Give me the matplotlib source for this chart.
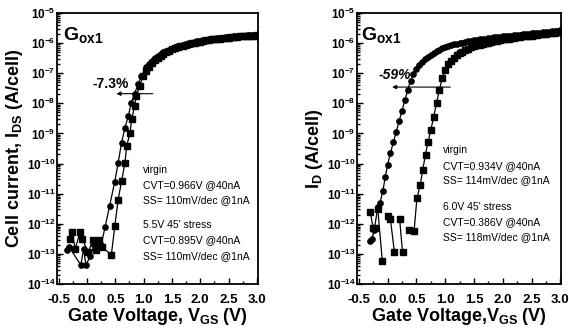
import numpy as np
import matplotlib
matplotlib.use('Agg')
import matplotlib.pyplot as plt
from matplotlib import font_manager
from matplotlib.ticker import MultipleLocator, LogLocator, FuncFormatter, NullFormatter

# pick a narrow bold sans if there is one
names = set(f.name for f in font_manager.fontManager.ttflist)
FONT = 'Liberation Sans Narrow' if 'Liberation Sans Narrow' in names else 'Liberation Sans'
plt.rcParams['font.family'] = FONT
plt.rcParams['mathtext.fontset'] = 'custom'
plt.rcParams['mathtext.rm'] = FONT + ':bold'
plt.rcParams['mathtext.bf'] = FONT + ':bold'
plt.rcParams['mathtext.it'] = FONT + ':bold'

# ---- data (log10 of current, A/cell) ----
# left panel: Gox1, 5.5V 45' stress
left_virgin_v = [-0.30, -0.26, -0.21, -0.12, -0.08, 0.02, 0.10, 0.16, 0.21, 0.27, 0.43, 0.49,
                 0.55, 0.61, 0.67, 0.70, 0.76, 0.79, 0.84, 0.87, 0.93, 0.99]
left_virgin_log = [-12.51, -12.26, -12.84, -12.26, -12.51, -12.95, -12.55, -12.87, -12.55, -12.78,
                   -13.03, -12.09, -11.20, -10.59, -9.98, -9.42, -8.98, -8.53, -8.09, -7.76, -7.42, -7.09]
left_stress_v = [-0.35, -0.31, -0.11, -0.06, -0.02, 0.06, 0.13, 0.20, 0.25, 0.32, 0.40, 0.49,
                 0.55, 0.61, 0.67, 0.73, 0.78, 0.84, 0.90, 0.96]
left_stress_log = [-12.87, -12.78, -13.37, -12.84, -13.37, -13.07, -12.70, -12.78, -12.70, -12.10,
                   -11.40, -10.60, -9.98, -9.31, -8.81, -8.42, -7.98, -7.68, -7.37, -7.09]

left_on_v = [1.05, 1.10, 1.15, 1.20, 1.25, 1.30, 1.35, 1.40, 1.45, 1.50, 1.55, 1.60, 1.65, 1.70,
             1.75, 1.80, 1.85, 1.90, 1.95, 2.00, 2.05, 2.10, 2.15, 2.20, 2.25, 2.30, 2.35, 2.40,
             2.45, 2.50, 2.55, 2.60, 2.65, 2.70, 2.75, 2.80, 2.85, 2.90, 2.95, 3.00]
left_stress_on = [-6.80, -6.68, -6.58, -6.50, -6.43, -6.37, -6.31, -6.26, -6.22, -6.18, -6.14,
                  -6.11, -6.08, -6.05, -6.03, -6.00, -5.98, -5.96, -5.94, -5.92, -5.91, -5.89,
                  -5.88, -5.86, -5.85, -5.84, -5.83, -5.82, -5.81, -5.80, -5.79, -5.78, -5.77,
                  -5.76, -5.76, -5.75, -5.74, -5.74, -5.73, -5.73]
left_virgin_on = [-6.92, -6.78, -6.66, -6.57, -6.49, -6.42, -6.36, -6.30, -6.26, -6.21, -6.17,
                  -6.14, -6.10, -6.08, -6.05, -6.03, -6.00, -5.98, -5.96, -5.95, -5.93, -5.91,
                  -5.90, -5.88, -5.87, -5.86, -5.85, -5.84, -5.83, -5.82, -5.81, -5.80, -5.79,
                  -5.78, -5.77, -5.77, -5.76, -5.75, -5.75, -5.74]

# right panel: Gox1, 6.0V 45' stress (nan = no reading, line broken)
right_virgin_v = [-0.30, -0.25, -0.21, np.nan, -0.17, -0.09, np.nan, 0.00, 0.05, 0.12, np.nan,
                  0.21, 0.26, np.nan, 0.37, np.nan, 0.46, 0.51, 0.57, 0.61, 0.66, 0.70, 0.75,
                  0.80, 0.85, 0.90, 0.95, 1.00, 1.05, 1.10]
right_virgin_log = [-11.60, -12.15, -12.15, np.nan, -11.50, -13.25, np.nan, -11.75, -11.85, -12.95,
                    np.nan, -11.85, -12.95, np.nan, -12.20, np.nan, -12.25, -11.15, -10.70, -10.20,
                    -9.70, -9.30, -8.90, -8.45, -8.00, -7.55, -7.15, -6.88, -6.70, -6.58]
right_stress_v = [-0.30, -0.27, -0.23, -0.17, -0.13, -0.08, -0.04, 0.00, 0.05, 0.10, 0.15, 0.20,
                  0.25, 0.30, 0.35, 0.40, 0.45, 0.50, 0.55, 0.60]
right_stress_log = [-12.57, -12.50, -12.20, -11.45, -11.30, -10.90, -10.45, -10.05, -9.65, -9.30,
                    -8.95, -8.60, -8.25, -7.90, -7.55, -7.25, -7.02, -6.85, -6.72, -6.62]

right_stress_on_v = [0.65, 0.70, 0.75, 0.80, 0.85, 0.90, 0.95, 1.00] + left_on_v
right_stress_on = [-6.54, -6.47, -6.40, -6.33, -6.27, -6.22, -6.17, -6.13, -6.10, -6.07, -6.04,
                   -6.02, -6.00, -5.98, -5.96, -5.94, -5.92, -5.91, -5.89, -5.88, -5.86, -5.85,
                   -5.84, -5.82, -5.81, -5.80, -5.79, -5.78, -5.77, -5.76, -5.75, -5.74, -5.73,
                   -5.72, -5.71, -5.70, -5.69, -5.68, -5.67, -5.66, -5.65, -5.64, -5.63, -5.62,
                   -5.61, -5.60, -5.59, -5.58]
right_virgin_on_v = left_on_v[2:]
right_virgin_on = [-6.48, -6.40, -6.34, -6.28, -6.23, -6.18, -6.14, -6.10, -6.07, -6.05, -6.02,
                   -6.00, -5.98, -5.96, -5.94, -5.92, -5.90, -5.88, -5.86, -5.85, -5.84, -5.82,
                   -5.81, -5.80, -5.78, -5.77, -5.76, -5.75, -5.74, -5.72, -5.71, -5.70, -5.69,
                   -5.68, -5.67, -5.66, -5.64, -5.62]

left_notes = ["virgin", "CVT=0.966V @40nA", "SS= 110mV/dec @1nA",
              "5.5V 45' stress", "CVT=0.895V @40nA", "SS= 110mV/dec @1nA"]
right_notes = ["virgin", "CVT=0.934V @40nA", "SS= 114mV/dec @1nA",
               "6.0V 45' stress", "CVT=0.386V @40nA", "SS= 118mV/dec @1nA"]


def curve(ax, v, logi, marker):
    ax.plot(v, 10.0 ** np.array(logi, dtype=float), color='k', lw=0.9,
            marker=marker, ms=3.8, mfc='k', mec='k')


def decade(x, pos):
    return r'$\mathbf{10^{%d}}$' % round(np.log10(x))


def style(ax, xmax):
    ax.set_yscale('log')
    ax.set_ylim(1e-14, 1e-5)
    ax.set_xlim(-0.53, xmax)
    ax.xaxis.set_major_locator(MultipleLocator(0.5))
    ax.xaxis.set_minor_locator(MultipleLocator(0.25))
    ax.xaxis.set_major_formatter(FuncFormatter(lambda x, p: '%.1f' % x))
    ax.yaxis.set_major_locator(LogLocator(base=10, numticks=20))
    ax.yaxis.set_minor_locator(LogLocator(base=10, subs=np.arange(2, 10), numticks=20))
    ax.yaxis.set_major_formatter(FuncFormatter(decade))
    ax.yaxis.set_minor_formatter(NullFormatter())
    ax.tick_params(which='both', direction='in', width=1.0)
    ax.tick_params(which='major', length=4)
    ax.tick_params(which='minor', length=2)
    ax.tick_params(axis='x', labelsize=9.5, pad=7)
    ax.tick_params(axis='y', labelsize=8.5, pad=1)
    for lab in ax.get_xticklabels():
        lab.set_fontweight('bold')
    for s in ax.spines.values():
        s.set_linewidth(1.3)


fig = plt.figure(figsize=(5.69, 3.35), dpi=100)
ax1 = fig.add_axes([57 / 569, 51 / 335, 201 / 569, 271 / 335])
ax2 = fig.add_axes([357 / 569, 51 / 335, 204 / 569, 271 / 335])

# left panel
curve(ax1, left_virgin_v + left_on_v, left_virgin_log + left_virgin_on, 's')
curve(ax1, left_stress_v + left_on_v, left_stress_log + left_stress_on, 'o')
style(ax1, 3.02)
ax1.set_xlabel(r'Gate Voltage, V$_{\mathbf{GS}}$ (V)', fontsize=13, fontweight='bold', labelpad=0)
ax1.set_ylabel(r'Cell current, I$_{\mathbf{DS}}$ (A/cell)', fontsize=13, fontweight='bold', labelpad=1)
ax1.text(0.03, 0.90, r'G$_{\mathbf{ox1}}$', transform=ax1.transAxes, fontsize=14, fontweight='bold')
ax1.annotate('', xy=(0.52, 10 ** -7.68), xytext=(1.16, 10 ** -7.68),
             arrowprops=dict(arrowstyle='-|>', lw=0.8, color='k', mutation_scale=6,
                             shrinkA=0, shrinkB=0))
ax1.text(0.42, 10 ** -7.37, '-7.3%', fontsize=10, fontweight='bold', ha='center', va='center')
for t, py in zip(left_notes, [170, 185, 200, 225, 240, 256]):
    ax1.text(0.43, (284 - py) / 271, t, transform=ax1.transAxes, fontsize=7.5, va='center')

# right panel
curve(ax2, right_virgin_v + right_virgin_on_v, right_virgin_log + right_virgin_on, 's')
curve(ax2, right_stress_v + right_stress_on_v, right_stress_log + right_stress_on, 'o')
style(ax2, 3.01)
ax2.set_xlabel(r'Gate Voltage,V$_{\mathbf{GS}}$ (V)', fontsize=13, fontweight='bold', labelpad=0)
ax2.set_ylabel(r'I$_{\mathbf{D}}$ (A/cell)', fontsize=13, fontweight='bold', labelpad=1)
ax2.text(0.02, 0.90, r'G$_{\mathbf{ox1}}$', transform=ax2.transAxes, fontsize=14, fontweight='bold')
ax2.annotate('', xy=(0.08, 10 ** -7.46), xytext=(1.09, 10 ** -7.46),
             arrowprops=dict(arrowstyle='-|>', lw=0.8, color='k', mutation_scale=6,
                             shrinkA=0, shrinkB=0))
ax2.text(0.12, 10 ** -7.07, '-59%', fontsize=10, fontweight='bold', style='italic',
         ha='center', va='center')
for t, py in zip(right_notes, [150, 166, 180, 207, 222, 237]):
    ax2.text(0.42, (284 - py) / 271, t, transform=ax2.transAxes, fontsize=7.5, va='center')

fig.savefig('out.png', dpi=100)
